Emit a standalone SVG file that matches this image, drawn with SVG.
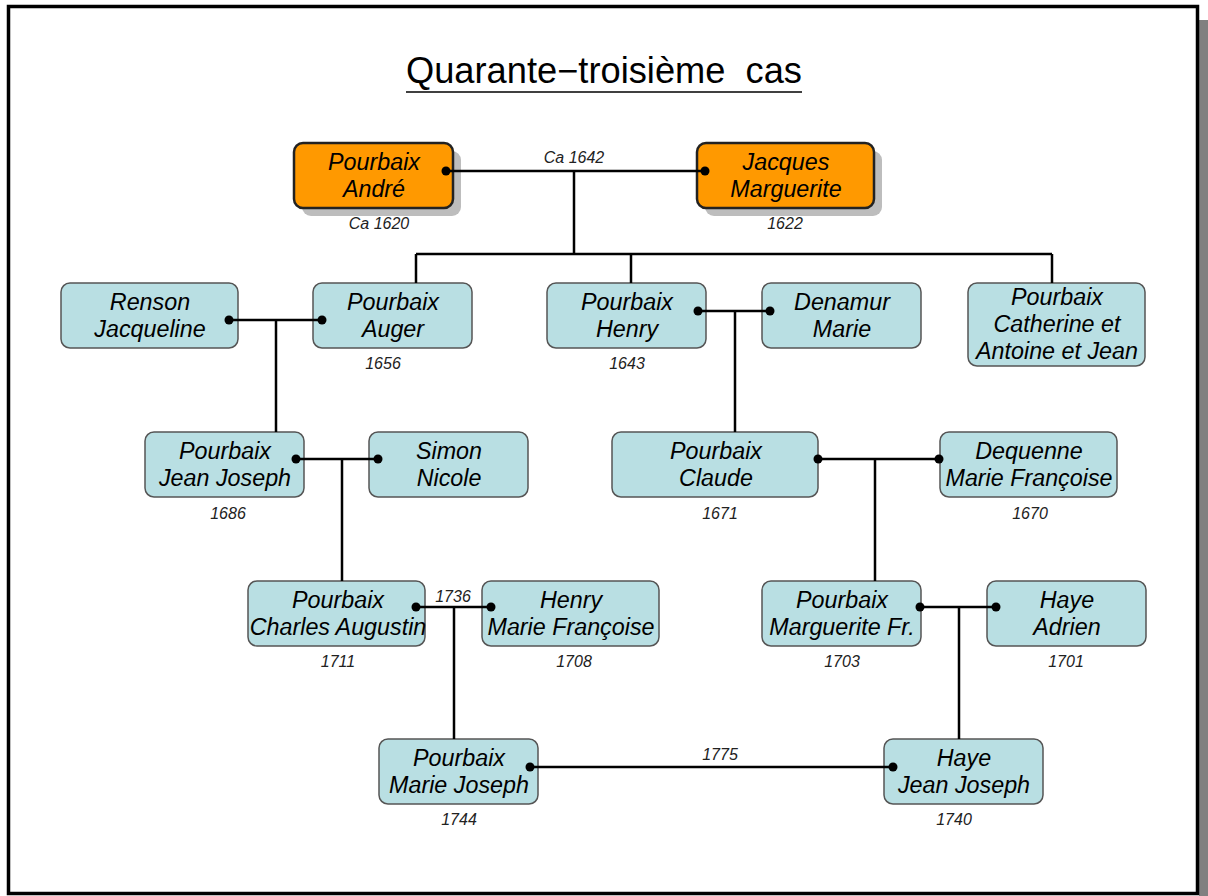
<svg xmlns="http://www.w3.org/2000/svg" width="1208" height="896" viewBox="0 0 1208 896">
  <style>
    .lbl { font-family: "Liberation Sans", Arial, sans-serif; font-style: italic; font-size: 23.3px; fill: #000; text-anchor: middle; }
    .date { font-family: "Liberation Sans", Arial, sans-serif; font-style: italic; font-size: 16px; fill: #222; text-anchor: middle; }
    .title { font-family: "Liberation Sans", Arial, sans-serif; font-size: 36px; fill: #000; white-space: pre; }
    .blue { fill: #b9dfe3; stroke: #555; stroke-width: 1.5; }
    .orange { fill: #ff9900; stroke: #222; stroke-width: 2.5; }
    .shadow { fill: #bdbdbd; }
    .wire { stroke: #000; stroke-width: 2.5; fill: none; }
    .dot { fill: #000; }
  </style>

  <!-- page frame -->
  <rect x="0" y="0" width="1208" height="896" fill="#fff"/>
  <rect x="1199" y="20" width="9" height="876" fill="#808080"/>
  <rect x="8.5" y="6.5" width="1189" height="887" fill="none" stroke="#000" stroke-width="3.5"/>

  <!-- title -->
  <text class="title" x="406" y="83" textLength="396" lengthAdjust="spacingAndGlyphs" xml:space="preserve">Quarante−troisième  cas</text>
  <line x1="406" y1="92" x2="802" y2="92" stroke="#000" stroke-width="1.5"/>

  <!-- first couple -->
  <g id="andre">
    <rect class="shadow" x="302" y="151" width="159" height="65" rx="9"/>
    <rect class="orange" x="294" y="143" width="159" height="65" rx="9"/>
    <text class="lbl" x="374" y="170">Pourbaix</text>
    <text class="lbl" x="374" y="197">André</text>
    <text class="date" x="379" y="229">Ca 1620</text>
  </g>
  <g id="marguerite">
    <rect class="shadow" x="705" y="151" width="177" height="65" rx="9"/>
    <rect class="orange" x="697" y="143" width="177" height="65" rx="9"/>
    <text class="lbl" x="786" y="170">Jacques</text>
    <text class="lbl" x="786" y="197">Marguerite</text>
    <text class="date" x="785" y="229">1622</text>
  </g>

  <!-- second generation -->
  <g id="renson">
    <rect class="blue" x="61" y="283" width="177" height="65" rx="9"/>
    <text class="lbl" x="150" y="310">Renson</text>
    <text class="lbl" x="150" y="337">Jacqueline</text>
  </g>
  <g id="auger">
    <rect class="blue" x="313" y="283" width="159" height="65" rx="9"/>
    <text class="lbl" x="393" y="310">Pourbaix</text>
    <text class="lbl" x="393" y="337">Auger</text>
    <text class="date" x="383" y="369">1656</text>
  </g>
  <g id="henry">
    <rect class="blue" x="547" y="283" width="159" height="65" rx="9"/>
    <text class="lbl" x="627" y="310">Pourbaix</text>
    <text class="lbl" x="627" y="337">Henry</text>
    <text class="date" x="627" y="369">1643</text>
  </g>
  <g id="denamur">
    <rect class="blue" x="762" y="283" width="159" height="65" rx="9"/>
    <text class="lbl" x="842" y="310">Denamur</text>
    <text class="lbl" x="842" y="337">Marie</text>
  </g>
  <g id="catherine">
    <rect class="blue" x="968" y="283" width="177" height="83" rx="9"/>
    <text class="lbl" x="1057" y="305">Pourbaix</text>
    <text class="lbl" x="1057" y="332">Catherine et</text>
    <text class="lbl" x="1057" y="359">Antoine et Jean</text>
  </g>

  <!-- third generation -->
  <g id="jeanjoseph">
    <rect class="blue" x="145" y="432" width="159" height="65" rx="9"/>
    <text class="lbl" x="225" y="459">Pourbaix</text>
    <text class="lbl" x="225" y="486">Jean Joseph</text>
    <text class="date" x="228" y="519">1686</text>
  </g>
  <g id="simon">
    <rect class="blue" x="369" y="432" width="159" height="65" rx="9"/>
    <text class="lbl" x="449" y="459">Simon</text>
    <text class="lbl" x="449" y="486">Nicole</text>
  </g>
  <g id="claude">
    <rect class="blue" x="612" y="432" width="206" height="65" rx="9"/>
    <text class="lbl" x="716" y="459">Pourbaix</text>
    <text class="lbl" x="716" y="486">Claude</text>
    <text class="date" x="720" y="519">1671</text>
  </g>
  <g id="dequenne">
    <rect class="blue" x="940" y="432" width="177" height="65" rx="9"/>
    <text class="lbl" x="1029" y="459">Dequenne</text>
    <text class="lbl" x="1029" y="486">Marie Françoise</text>
    <text class="date" x="1030" y="519">1670</text>
  </g>

  <!-- fourth generation -->
  <g id="charles">
    <rect class="blue" x="248" y="581" width="177" height="65" rx="9"/>
    <text class="lbl" x="338" y="608">Pourbaix</text>
    <text class="lbl" x="338" y="635">Charles Augustin</text>
    <text class="date" x="338" y="667">1711</text>
  </g>
  <g id="henrymf">
    <rect class="blue" x="482" y="581" width="177" height="65" rx="9"/>
    <text class="lbl" x="571" y="608">Henry</text>
    <text class="lbl" x="571" y="635">Marie Françoise</text>
    <text class="date" x="574" y="667">1708</text>
  </g>
  <g id="margueritefr">
    <rect class="blue" x="762" y="581" width="159" height="65" rx="9"/>
    <text class="lbl" x="842" y="608">Pourbaix</text>
    <text class="lbl" x="842" y="635">Marguerite Fr.</text>
    <text class="date" x="842" y="667">1703</text>
  </g>
  <g id="adrien">
    <rect class="blue" x="987" y="581" width="159" height="65" rx="9"/>
    <text class="lbl" x="1067" y="608">Haye</text>
    <text class="lbl" x="1067" y="635">Adrien</text>
    <text class="date" x="1066" y="667">1701</text>
  </g>

  <!-- fifth generation -->
  <g id="mariejoseph">
    <rect class="blue" x="379" y="739" width="159" height="65" rx="9"/>
    <text class="lbl" x="459" y="766">Pourbaix</text>
    <text class="lbl" x="459" y="793">Marie Joseph</text>
    <text class="date" x="459" y="825">1744</text>
  </g>
  <g id="hayejj">
    <rect class="blue" x="884" y="739" width="159" height="65" rx="9"/>
    <text class="lbl" x="964" y="766">Haye</text>
    <text class="lbl" x="964" y="793">Jean Joseph</text>
    <text class="date" x="954" y="825">1740</text>
  </g>

  <!-- connectors (drawn last so the end dots sit on top of the boxes) -->
  <g id="connectors">
    <path class="wire" d="M446 171 H705 M574 171 V254 M416 254 H1052 M416 254 V283 M631 254 V283 M1052 254 V283"/>
    <path class="wire" d="M229 320 H322 M276 320 V432"/>
    <path class="wire" d="M698 311 H770 M735 311 V432"/>
    <path class="wire" d="M296 459 H378 M342 459 V581"/>
    <path class="wire" d="M818 459 H939 M875 459 V581"/>
    <path class="wire" d="M416 607 H491 M454 607 V739"/>
    <path class="wire" d="M920 607 H996 M959 607 V739"/>
    <path class="wire" d="M530 767 H893"/>
    <g class="dot">
      <circle cx="446" cy="171" r="4.5"/><circle cx="705" cy="171" r="4.5"/>
      <circle cx="229" cy="320" r="4.5"/><circle cx="322" cy="320" r="4.5"/>
      <circle cx="698" cy="311" r="4.5"/><circle cx="770" cy="311" r="4.5"/>
      <circle cx="296" cy="459" r="4.5"/><circle cx="378" cy="459" r="4.5"/>
      <circle cx="818" cy="459" r="4.5"/><circle cx="939" cy="459" r="4.5"/>
      <circle cx="416" cy="607" r="4.5"/><circle cx="491" cy="607" r="4.5"/>
      <circle cx="920" cy="607" r="4.5"/><circle cx="996" cy="607" r="4.5"/>
      <circle cx="530" cy="767" r="4.5"/><circle cx="893" cy="767" r="4.5"/>
    </g>
    <text class="date" x="574" y="163">Ca 1642</text>
    <text class="date" x="453" y="602">1736</text>
    <text class="date" x="720" y="760">1775</text>
  </g>
</svg>
